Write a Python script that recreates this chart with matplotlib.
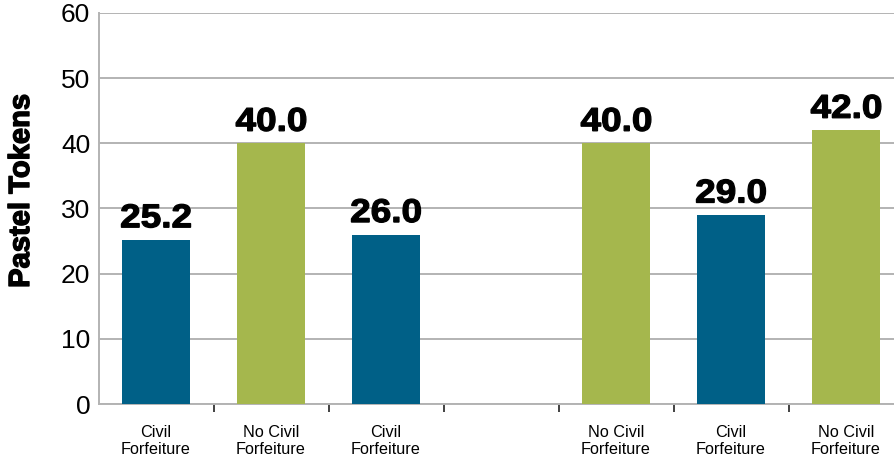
import matplotlib
matplotlib.use("Agg")
import matplotlib.pyplot as plt
import matplotlib.patheffects as pe
from matplotlib.textpath import TextPath
from matplotlib.patches import PathPatch
from matplotlib.font_manager import FontProperties
from matplotlib.transforms import Affine2D, ScaledTranslation
import numpy as np

categories = ["Civil\nForfeiture", "No Civil\nForfeiture", "Civil\nForfeiture", "",
              "No Civil\nForfeiture", "Civil\nForfeiture", "No Civil\nForfeiture"]
values = [25.2, 40.0, 26.0, None, 40.0, 29.0, 42.0]
groups = ["civil", "nocivil", "civil", None, "nocivil", "civil", "nocivil"]
y_label = "Pastel Tokens"
y_ticks = [0, 10, 20, 30, 40, 50, 60]

colors = {"civil": "#006087", "nocivil": "#A5B74D"}

plt.rcParams["font.family"] = ["Liberation Sans", "DejaVu Sans"]

W, H = 894, 461
fig = plt.figure(figsize=(W / 100, H / 100), dpi=100)
left, right, top, bottom = 98.5, 903.5, 13, 404
ax = fig.add_axes([left / W, (H - bottom) / H, (right - left) / W, (bottom - top) / H])

bold_fp = FontProperties(family="Liberation Sans", weight="bold")

x = np.arange(len(categories))
for xi, v, g in zip(x, values, groups):
    if v is None:
        continue
    ax.bar(xi, v, width=0.59, color=colors[g], zorder=3)
    tp = TextPath((0, 0), f"{v:.1f}", size=33, prop=bold_fp)
    ext = tp.get_extents()
    tr = (Affine2D().translate(-(ext.x0 + ext.x1) / 2, 0).scale(1.12, 1.0).translate(0, 12.5)
          + ScaledTranslation(xi, v, ax.transData))
    patch = PathPatch(tp, transform=tr, facecolor="black", edgecolor="black",
                      linewidth=0.9, zorder=4, clip_on=False)
    ax.add_artist(patch)

ax.set_xlim(-0.5, len(categories) - 0.5)
ax.set_ylim(0, 60)
ax.set_yticks(y_ticks)
ax.set_yticklabels([str(t) for t in y_ticks], fontsize=19)
ax.tick_params(axis="y", length=0, pad=6)
ax.yaxis.grid(True, color="#B3B3B3", linewidth=1.4, zorder=0)
ax.set_axisbelow(True)

ax.set_xticks(x)
ax.set_xticklabels(categories, fontsize=11.7, linespacing=1.2)
ax.tick_params(axis="x", which="major", length=0, pad=15)
ax.set_xticks(np.arange(0.5, len(categories) - 0.5 + 0.01, 1.0), minor=True)
ax.tick_params(axis="x", which="minor", length=6, width=1.3, color="#333333")

for s in ["top", "right"]:
    ax.spines[s].set_visible(False)
ax.spines["left"].set_color("#B3B3B3")
ax.spines["left"].set_linewidth(1.4)
ax.spines["bottom"].set_color("#B3B3B3")
ax.spines["bottom"].set_linewidth(1.4)

fig.text(21 / W, (H - 191) / H, y_label, rotation=90, ha="center", va="center",
         fontsize=21, fontweight="bold", path_effects=[pe.withStroke(linewidth=1.0, foreground="black")])

fig.savefig("out.png", dpi=100)
